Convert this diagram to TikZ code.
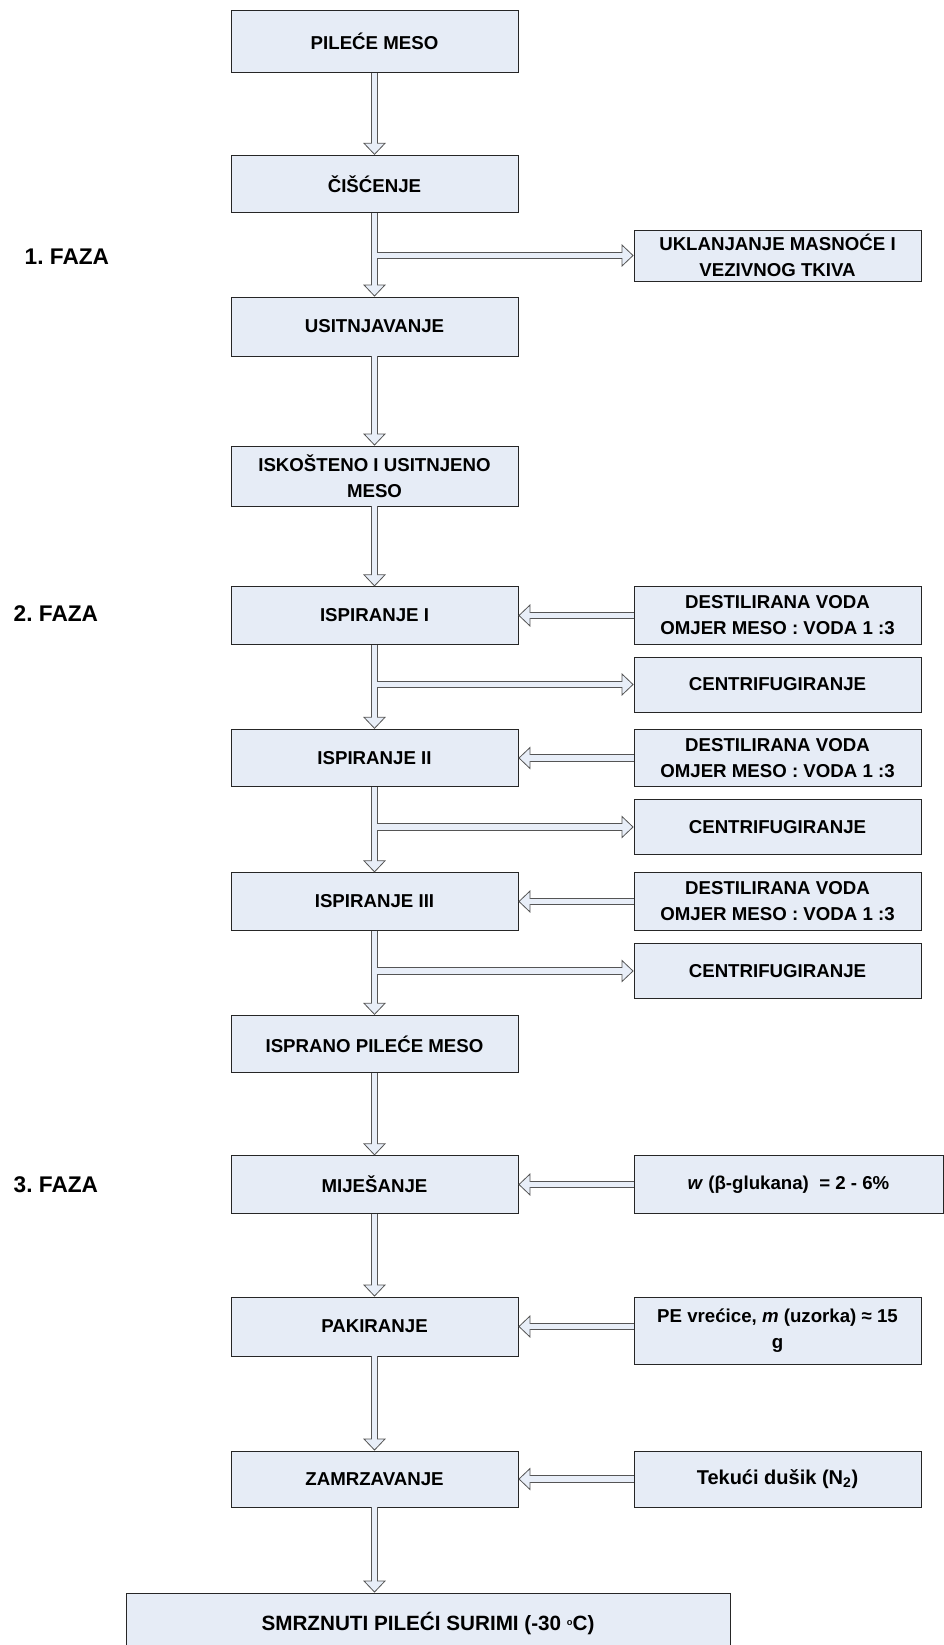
\documentclass[tikz,border=0pt]{standalone}
\usepackage{fontspec}
\setmainfont{Liberation Sans}
\usepackage{xcolor}
\usetikzlibrary{arrows.meta,calc,positioning}
\frenchspacing
\definecolor{boxfill}{HTML}{E6ECF6}
\definecolor{arrfill}{HTML}{E8EEF8}
\definecolor{arrline}{HTML}{555555}
\tikzset{box/.style={draw=black!85,fill=boxfill,line width=0.6pt,align=center,minimum width=215.25pt,
    minimum height=43pt,inner sep=2pt,font=\fontsize{14}{19.5}\selectfont\bfseries},
  arr/.style={line width=5.6pt,draw=arrline,-{Triangle[length=9pt,width=17pt,line width=0.6pt,fill=arrfill]},
    postaction={draw=arrfill,line width=4.4pt,-,shorten >=7.5pt}}}
\begin{document}
\begin{tikzpicture}[x=0.75pt,y=-0.75pt,
  faza/.style={anchor=west,font=\fontsize{17}{20}\selectfont\bfseries}]
\useasboundingbox (0,0) rectangle (944,1645);
\node[box,minimum height=46.5pt] (pil) at (374.5,41.5) {PILEĆE MESO};
\node[box] (cis) at (374.5,184) {ČIŠĆENJE};
\node[box,minimum height=38.25pt] (ukl) at (777.5,255.5) {UKLANJANJE MASNOĆE I\\VEZIVNOG TKIVA};
\node[box,minimum height=44.25pt] (usit) at (374.5,326.5) {USITNJAVANJE};
\node[box,minimum height=45pt] (isk) at (374.5,476) {ISKOŠTENO I USITNJENO\\MESO};
\node[box] (isp1) at (374.5,615.5) {ISPIRANJE I};
\node[box] (dest1) at (777.5,615.5) {DESTILIRANA VODA\\OMJER MESO : VODA 1 :3};
\node[box,minimum height=41.25pt] (cent1) at (777.5,684.5) {CENTRIFUGIRANJE};
\node[box] (isp2) at (374.5,758) {ISPIRANJE II};
\node[box] (dest2) at (777.5,758) {DESTILIRANA VODA\\OMJER MESO : VODA 1 :3};
\node[box,minimum height=41.25pt] (cent2) at (777.5,827) {CENTRIFUGIRANJE};
\node[box] (isp3) at (374.5,901.5) {ISPIRANJE III};
\node[box] (dest3) at (777.5,901.5) {DESTILIRANA VODA\\OMJER MESO : VODA 1 :3};
\node[box,minimum height=41.25pt] (cent3) at (777.5,971) {CENTRIFUGIRANJE};
\node[box] (ispr) at (374.5,1044) {ISPRANO PILEĆE MESO};
\node[box] (mij) at (374.5,1184.5) {MIJEŠANJE};
\node[box,minimum width=231.75pt] (glu) at (788.5,1184.5) {\textit{w} (β-glukana)~~= 2 - 6\%};
\node[box,minimum height=44.25pt] (pak) at (374.5,1326.5) {PAKIRANJE};
\node[box,minimum height=50.25pt] (pe) at (777.5,1330.5) {PE vrećice, \textit{m} (uzorka) ≈ 15\\g};
\node[box,minimum height=42pt] (zam) at (374.5,1479) {ZAMRZAVANJE};
\node[box,minimum height=42pt,font=\fontsize{15}{19.5}\selectfont\bfseries] (dus) at (777.5,1479) {Tekući dušik (N\textsubscript{2})};
\node[box,minimum width=453pt,minimum height=45pt,font=\fontsize{15.5}{19.5}\selectfont\bfseries] (smr) at (428,1623)
  {SMRZNUTI PILEĆI SURIMI (-30 {\raisebox{0.45ex}{\scriptsize o}}C)};
\node[faza] (f1) at (20,257) {1. FAZA};
\node[faza] (f2) at (9,614) {2. FAZA};
\node[faza] (f3) at (9,1185) {3. FAZA};
\draw[arr] (pil) -- (cis);
\draw[arr] (cis) -- (usit);
\draw[arr] (usit) -- (isk);
\draw[arr] (isk) -- (isp1);
\draw[arr] (isp1) -- (isp2);
\draw[arr] (isp2) -- (isp3);
\draw[arr] (isp3) -- (ispr);
\draw[arr] (ispr) -- (mij);
\draw[arr] (mij) -- (pak);
\draw[arr] (pak) -- (zam);
\draw[arr] (zam.south) -- (zam.south |- smr.north);
\draw[arr] ([xshift=2.2pt]cis.south |- ukl.west) -- (ukl.west);
\draw[arr] ([xshift=2.2pt]isp1.south |- cent1.west) -- (cent1.west);
\draw[arr] ([xshift=2.2pt]isp2.south |- cent2.west) -- (cent2.west);
\draw[arr] ([xshift=2.2pt]isp3.south |- cent3.west) -- (cent3.west);
\draw[arr] (dest1) -- (isp1);
\draw[arr] (dest2) -- (isp2);
\draw[arr] (dest3) -- (isp3);
\draw[arr] (glu) -- (mij);
\draw[arr] (pe.west |- pak.east) -- (pak.east);
\draw[arr] (dus) -- (zam);
\end{tikzpicture}
\end{document}
